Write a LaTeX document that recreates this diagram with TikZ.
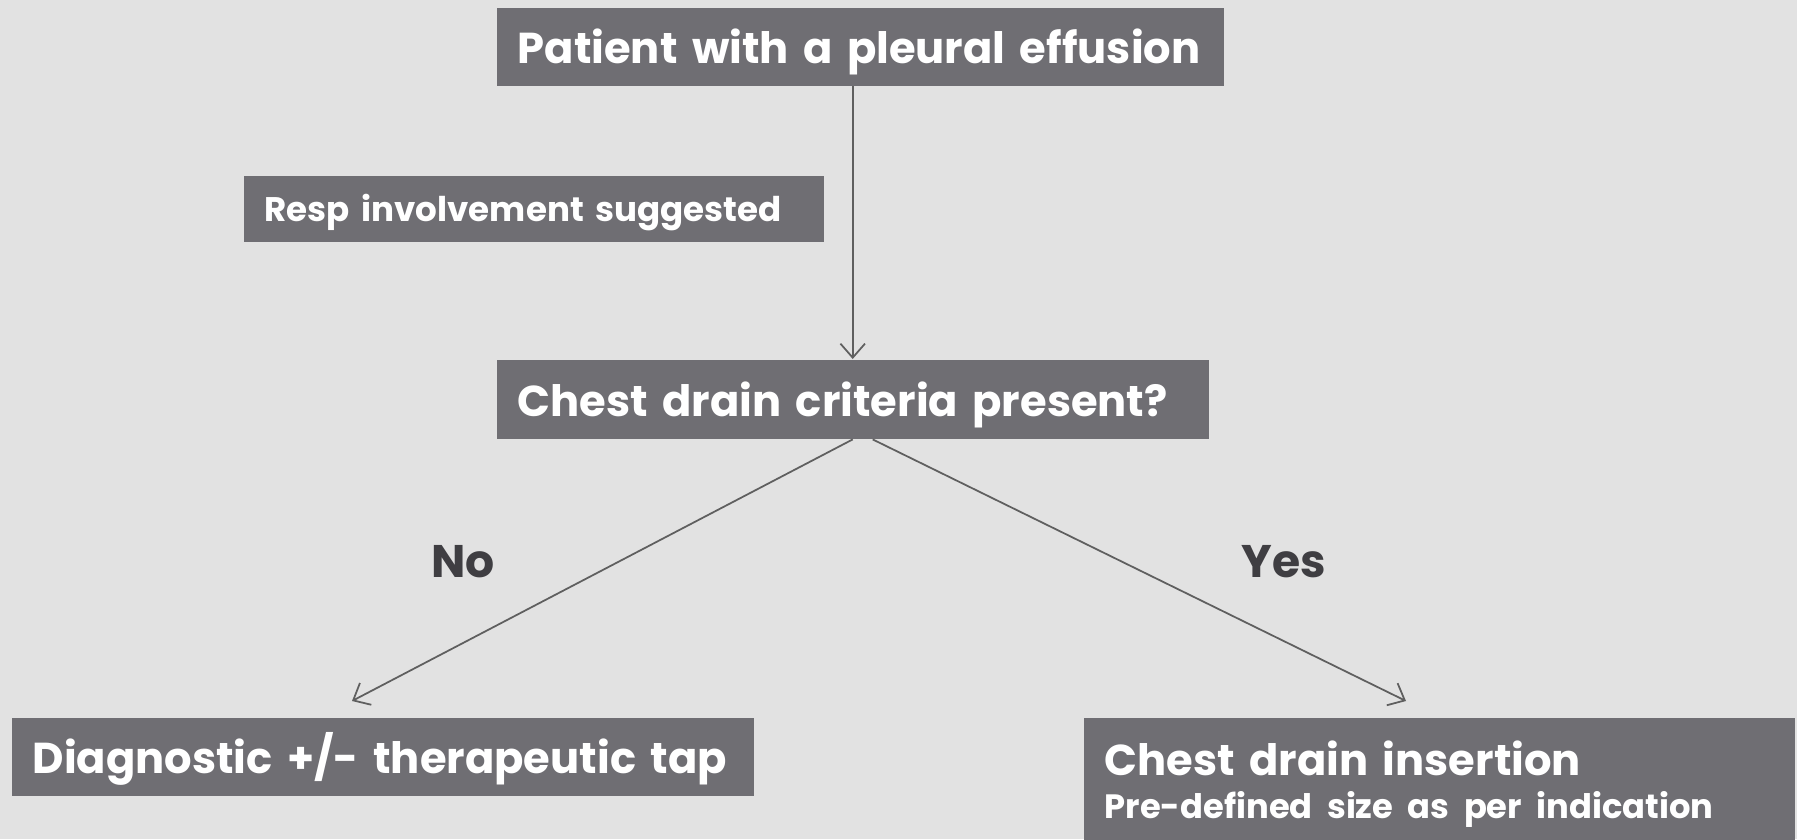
\documentclass[tikz,border=0pt]{standalone}
\usepackage{fontspec}
\setmainfont{Poppins}
\usetikzlibrary{arrows.meta,calc}

\definecolor{bggray}{HTML}{E2E2E2}
\definecolor{boxgray}{HTML}{6F6E73}
\definecolor{linegray}{HTML}{5F5F5F}
\definecolor{labgray}{HTML}{3F3E42}

\tikzset{
  box/.style={fill=boxgray, text=white, font=\bfseries\fontsize{12.3}{14}\selectfont,
    anchor=north west, align=left, inner xsep=0.21cm, inner ysep=0pt,
    text height=12.5pt, text depth=2.9pt},
  smallbox/.style={box, font=\bfseries\fontsize{9.7}{11}\selectfont,
    text height=10pt, text depth=2.5pt},
  arr/.style={draw=linegray, line width=0.5pt, -{Straight Barb[length=4pt,width=7pt]}},
  answer/.style={text=labgray, font=\bfseries\fontsize{13}{15}\selectfont}
}

\begin{document}
\begin{tikzpicture}
\fill[bggray] (0,0) rectangle (17.97,-8.39);
\useasboundingbox (0,0) rectangle (17.97,-8.39);

\node[box, text width=6.85cm, minimum height=0.78cm] (patient) at (4.96,-0.07) {Patient with a pleural effusion};
\node[smallbox, text width=5.38cm, minimum height=0.66cm] (resp) at (2.43,-1.75) {Resp involvement suggested};
\node[box, text width=6.70cm, minimum height=0.79cm] (crit) at (4.96,-3.59) {Chest drain criteria present?};
\node[box, text width=7.00cm, minimum height=0.78cm] (tap) at (0.11,-7.17) {Diagnostic +/- therapeutic tap};
\node[box, text width=6.69cm, minimum height=1.22cm, text height=, text depth=] (drain) at (10.83,-7.17)
  {\rule{0pt}{13pt}Chest drain insertion\\[-2pt]{\fontsize{9.6}{11}\selectfont Pre-defined size as per indication}};

\node[answer] (no) at (4.63,-5.62) {No};
\node[answer] (yes) at (12.84,-5.62) {Yes};

\coordinate (noend) at (3.52,-7.01);
\coordinate (yesend) at (14.06,-7.01);

\draw[arr] (crit.north |- patient.south) -- (crit.north);
\draw[arr] (crit.south) -- (noend);
\draw[arr] ($(crit.south)+(0.2,0)$) -- (yesend);
\end{tikzpicture}
\end{document}
